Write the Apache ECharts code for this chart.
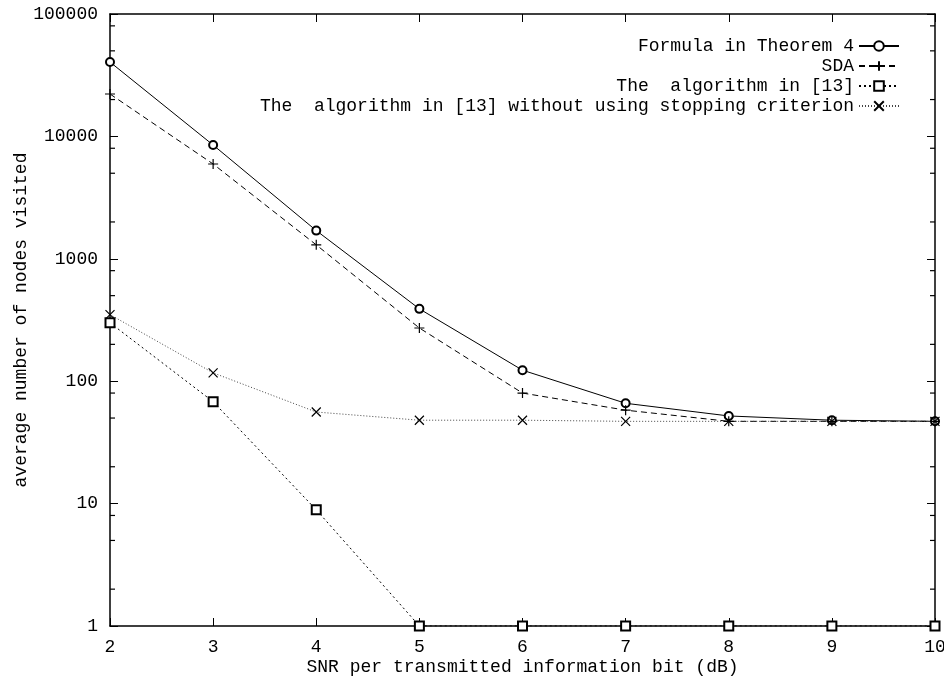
<!DOCTYPE html>
<html>
<head>
<meta charset="utf-8">
<script src="https://cdn.jsdelivr.net/npm/echarts@6/dist/echarts.min.js"></script>
<style>
  html, body { margin: 0; padding: 0; background: #fff; }
  #chart { width: 944px; height: 677px; }
</style>
</head>
<body>
<div id="chart"></div>
<script>
// SNR values (dB)
const snr = [2, 3, 4, 5, 6, 7, 8, 9, 10];

// average number of nodes visited
const formulaThm4 = [40500, 8500, 1700, 390, 123, 66, 52, 48, 47];
const sda = [22200, 5950, 1300, 272, 80, 58, 47, 47, 47];
const algo13 = [300, 68, 8.9, 1, 1, 1, 1, 1, 1];
const algo13NoStop = [350, 117, 56, 48, 48, 47, 47, 47, 47];

// log axis minor ticks (2, 5, 8 in every decade)
const yDecades = [1, 10, 100, 1000, 10000];
const minorSteps = [2, 5, 8];
const yMinor = [];
yDecades.forEach(d => minorSteps.forEach(k => yMinor.push(d * k)));

const seriesNames = [
  'Formula in Theorem 4',
  'SDA',
  'The  algorithm in [13]',
  'The  algorithm in [13] without using stopping criterion'
];

const FONT = '"Liberation Mono", "DejaVu Sans Mono", monospace';
const plus = 'path://M0,5L10,5M5,0L5,10';
const cross = 'path://M0,0L10,10M10,0L0,10';

function pairs(vals) {
  return snr.map((x, i) => [x, vals[i]]);
}

const chart = echarts.init(document.getElementById('chart'));

const yBase = {
  type: 'log',
  logBase: 10,
  min: 1,
  max: 100000,
  splitLine: { show: false },
  axisLine: { show: true, lineStyle: { color: '#000', width: 1.5 } },
  axisTick: { inside: true, length: 8, lineStyle: { color: '#000' } }
};

const legendTops = [32, 52, 72, 92];

chart.setOption({
  backgroundColor: '#fff',
  animation: false,
  textStyle: { fontFamily: FONT, color: '#000' },
  grid: { left: 110, right: 9, top: 14, bottom: 51, containLabel: false, outerBoundsMode: 'none' },
  legend: seriesNames.map((n, i) => ({
    data: [n],
    right: 39,
    top: legendTops[i],
    itemWidth: 40,
    itemHeight: 12,
    textStyle: { fontFamily: FONT, fontSize: 18, color: '#000' },
    align: 'right',
    selectedMode: false
  })),
  xAxis: [
    {
      type: 'value',
      min: 2,
      max: 10,
      interval: 1,
      position: 'bottom',
      name: 'SNR per transmitted information bit (dB)',
      nameLocation: 'middle',
      nameGap: 32,
      nameMoveOverlap: false,
      nameTextStyle: { fontFamily: FONT, fontSize: 18, color: '#000' },
      axisLine: { show: true, onZero: false, lineStyle: { color: '#000', width: 1.5 } },
      axisTick: { inside: true, length: 8, lineStyle: { color: '#000' } },
      axisLabel: { fontFamily: FONT, fontSize: 18, color: '#000', margin: 12 },
      splitLine: { show: false }
    },
    {
      type: 'value',
      min: 2,
      max: 10,
      interval: 1,
      position: 'top',
      axisLine: { show: true, onZero: false, lineStyle: { color: '#000', width: 1.5 } },
      axisTick: { inside: true, length: 8, lineStyle: { color: '#000' } },
      axisLabel: { show: false },
      splitLine: { show: false }
    }
  ],
  yAxis: [
    Object.assign({}, yBase, {
      position: 'left',
      name: 'average number of nodes visited',
      nameLocation: 'middle',
      nameGap: 80,
      nameMoveOverlap: false,
      nameRotate: 90,
      nameTextStyle: { fontFamily: FONT, fontSize: 18, color: '#000' },
      axisLabel: {
        fontFamily: FONT, fontSize: 18, color: '#000', margin: 12,
        formatter: v => String(v)
      }
    }),
    Object.assign({}, yBase, {
      position: 'right',
      axisLabel: { show: false }
    })
  ],
  series: [
    {
      // minor ticks of the log axis, on both sides of the frame
      type: 'custom',
      silent: true,
      clip: false,
      z: 5,
      encode: { x: 0, y: 1 },
      data: yMinor.map(v => [2, v]),
      renderItem: (params, api) => {
        const l = api.coord([2, api.value(1)]);
        const r = api.coord([10, api.value(1)]);
        return {
          type: 'group',
          children: [
            { type: 'line', shape: { x1: l[0], y1: l[1], x2: l[0] + 5, y2: l[1] }, style: { stroke: '#000', lineWidth: 1.2 } },
            { type: 'line', shape: { x1: r[0], y1: r[1], x2: r[0] - 5, y2: r[1] }, style: { stroke: '#000', lineWidth: 1.2 } }
          ]
        };
      }
    },
    {
      name: seriesNames[0],
      type: 'line',
      data: pairs(formulaThm4),
      symbol: 'emptyCircle',
      symbolSize: 8,
      lineStyle: { color: '#000', width: 1 },
      itemStyle: { color: '#000', borderColor: '#000', borderWidth: 1 }
    },
    {
      name: seriesNames[1],
      type: 'line',
      data: pairs(sda),
      symbol: plus,
      symbolSize: 10,
      lineStyle: { color: '#000', width: 1, type: [6, 4] },
      itemStyle: { color: '#000', borderColor: '#000', borderWidth: 1.2 }
    },
    {
      name: seriesNames[2],
      type: 'line',
      data: pairs(algo13),
      symbol: 'emptyRect',
      symbolSize: 9,
      lineStyle: { color: '#000', width: 1, type: [2, 3] },
      itemStyle: { color: '#000', borderColor: '#000', borderWidth: 1.2 }
    },
    {
      name: seriesNames[3],
      type: 'line',
      data: pairs(algo13NoStop),
      symbol: cross,
      symbolSize: 9,
      lineStyle: { color: '#444', width: 1, type: [1, 2] },
      itemStyle: { color: '#000', borderColor: '#000', borderWidth: 1.2 }
    }
  ]
});
</script>
</body>
</html>
